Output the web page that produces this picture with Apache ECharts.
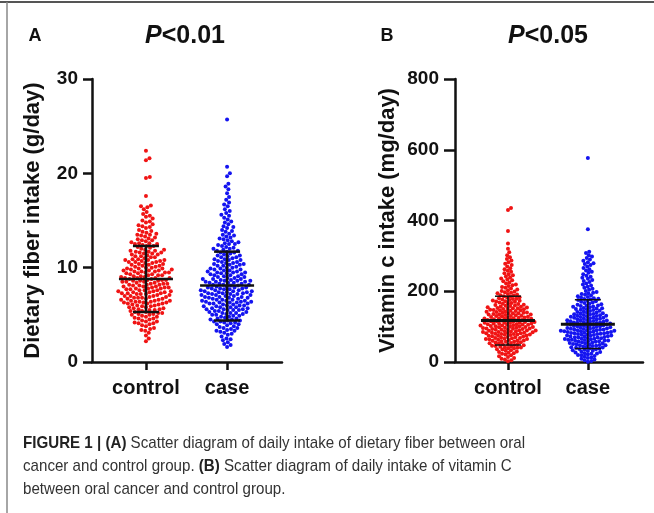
<!DOCTYPE html>
<html>
<head>
<meta charset="utf-8">
<script src="https://cdn.jsdelivr.net/npm/echarts@6/dist/echarts.min.js"></script>
<style>
  html, body { margin: 0; padding: 0; background: #fff; }
  #main { width: 654px; height: 513px; }
</style>
</head>
<body>
<div id="main"></div>
<script>
// groups on the x axis
const groups = ['control', 'case'];

// A: dietary fiber intake (g/day)
const fiberControl = [2.2,2.5,2.8,
  3.1,3.3,3.4,3.5,3.6,3.8,3.9,
  4.0,4.1,4.1,4.2,4.3,4.3,4.4,4.5,4.6,4.6,4.7,4.8,4.8,4.9,
  5.0,5.0,5.1,5.1,5.2,5.2,5.3,5.3,5.4,5.4,5.5,5.5,5.6,5.6,5.7,5.7,5.8,5.8,5.9,5.9,
  6.0,6.0,6.1,6.1,6.2,6.2,6.2,6.3,6.3,6.3,6.4,6.4,6.4,6.5,6.5,6.5,6.6,6.6,6.7,6.7,6.7,6.8,6.8,6.8,6.9,6.9,
  7.0,7.0,7.0,7.1,7.1,7.2,7.2,7.2,7.3,7.3,7.3,7.4,7.4,7.4,7.5,7.5,7.5,7.6,7.6,7.6,7.7,7.7,7.8,7.8,7.8,7.9,7.9,7.9,
  8.0,8.0,8.0,8.1,8.1,8.2,8.2,8.2,8.3,8.3,8.3,8.4,8.4,8.5,8.5,8.5,8.6,8.6,8.6,8.7,8.7,8.7,8.8,8.8,8.9,8.9,8.9,8.9,
  9.0,9.0,9.1,9.1,9.2,9.2,9.2,9.3,9.3,9.4,9.4,9.5,9.5,9.5,9.6,9.6,9.7,9.7,9.7,9.8,9.8,9.9,9.9,9.9,9.6,
  10.0,10.0,10.1,10.2,10.2,10.3,10.3,10.4,10.5,10.5,10.6,10.6,10.7,10.7,10.8,10.8,10.9,10.9,10.1,10.4,10.6,10.8,
  11.0,11.1,11.1,11.2,11.3,11.4,11.4,11.5,11.6,11.6,11.7,11.8,11.8,11.9,11.9,11.2,11.5,11.7,
  12.0,12.1,12.2,12.3,12.4,12.5,12.5,12.6,12.7,12.8,12.9,12.3,12.6,12.9,
  13.0,13.1,13.3,13.4,13.5,13.6,13.7,13.8,13.9,13.2,13.5,
  14.0,14.2,14.3,14.5,14.6,14.8,14.9,14.4,
  15.0,15.2,15.4,15.5,15.7,15.9,
  16.2,16.4,16.5,16.6,
  17.6,19.5,19.6,21.4,21.6,22.4];
const fiberCase = [1.6,1.8,1.9,
  2.1,2.3,2.4,2.5,2.7,2.9,
  3.0,3.1,3.2,3.3,3.3,3.4,3.5,3.6,3.6,3.7,3.8,3.9,
  4.0,4.0,4.1,4.2,4.2,4.3,4.4,4.4,4.5,4.5,4.6,4.6,4.7,4.8,4.8,4.9,4.9,4.3,
  5.0,5.0,5.1,5.1,5.2,5.2,5.3,5.3,5.4,5.4,5.5,5.5,5.5,5.6,5.6,5.7,5.7,5.8,5.8,5.8,5.9,5.9,5.2,5.6,
  6.0,6.0,6.0,6.1,6.1,6.2,6.2,6.2,6.3,6.3,6.4,6.4,6.4,6.5,6.5,6.5,6.6,6.6,6.6,6.7,6.7,6.8,6.8,6.8,6.9,6.9,6.9,6.3,
  7.0,7.0,7.1,7.1,7.1,7.2,7.2,7.3,7.3,7.3,7.4,7.4,7.5,7.5,7.5,7.6,7.6,7.6,7.7,7.7,7.8,7.8,7.8,7.9,7.9,7.9,7.4,7.2,
  8.0,8.0,8.1,8.1,8.2,8.2,8.3,8.3,8.4,8.4,8.5,8.5,8.5,8.6,8.6,8.7,8.7,8.8,8.8,8.9,8.9,8.2,8.6,8.4,8.8,
  9.0,9.1,9.1,9.2,9.3,9.3,9.4,9.5,9.5,9.6,9.6,9.7,9.8,9.8,9.9,9.9,9.2,9.4,9.7,9.0,9.5,
  10.0,10.1,10.2,10.3,10.3,10.4,10.5,10.6,10.6,10.7,10.8,10.9,10.9,10.2,10.5,10.8,10.0,10.4,
  11.0,11.1,11.2,11.3,11.4,11.5,11.6,11.7,11.8,11.9,11.3,11.6,11.1,11.8,
  12.0,12.1,12.3,12.4,12.5,12.6,12.8,12.9,12.2,12.7,12.5,12.0,
  13.0,13.2,13.3,13.5,13.6,13.8,13.9,13.1,13.4,
  14.0,14.2,14.4,14.6,14.8,14.3,14.9,
  15.1,15.3,15.5,15.6,15.8,16.0,
  16.2,16.5,16.7,16.9,
  17.2,17.5,17.9,18.3,18.6,18.9,19.7,20.0,20.7,25.7];

// B: vitamin C intake (mg/day)
const vitcControl = [2,5,7,9,11,14,16,19,
  21,23,25,26,28,30,32,33,35,36,38,39,
  40,41,42,43,44,45,46,47,48,49,50,51,52,53,54,55,56,57,58,59,
  60,61,61,62,63,64,65,66,67,68,68,69,70,71,72,73,74,74,75,76,77,78,78,79,79,65,
  80,81,81,82,83,83,84,85,85,86,87,87,88,89,89,90,91,91,92,93,93,94,95,95,96,97,97,98,99,99,
  100,101,101,102,103,103,104,105,105,106,107,107,108,109,109,110,111,111,112,113,113,114,115,115,116,117,117,118,119,119,
  120,121,122,122,123,124,125,126,126,127,128,129,130,130,131,132,133,134,134,135,136,137,138,138,139,139,124,
  140,141,142,143,144,145,146,147,148,149,150,151,152,153,154,155,156,157,158,159,146,152,
  160,161,162,164,165,166,167,168,170,171,172,173,174,175,177,178,179,
  180,182,183,185,186,188,189,191,192,194,196,197,199,
  201,203,205,208,210,212,215,217,219,
  222,225,228,231,233,236,239,
  242,245,248,251,255,258,
  262,265,270,274,278,
  282,287,291,296,
  302,310,320,335,
  370,430,435];
const vitcCase = [1,3,5,7,9,11,13,15,17,19,
  20,21,23,24,25,27,28,29,31,32,33,35,36,37,38,39,
  40,41,42,43,44,45,46,47,48,49,50,51,52,53,54,55,56,57,58,58,59,47,
  60,61,61,62,63,63,64,65,66,66,67,68,69,69,70,71,72,72,73,74,75,75,76,77,78,79,79,
  80,81,81,82,83,83,84,85,85,86,87,87,88,88,89,90,90,91,92,92,93,94,94,95,96,96,97,98,99,
  100,101,101,102,103,104,104,105,106,106,107,108,109,109,110,111,112,112,113,114,114,115,116,117,117,118,119,
  120,121,122,123,124,125,126,127,128,129,130,131,132,133,134,135,136,137,138,139,125,131,
  140,141,143,144,145,147,148,149,151,152,153,155,156,157,158,159,150,
  160,162,163,165,167,168,170,172,173,175,177,178,179,
  180,182,184,186,188,190,192,194,196,198,
  201,204,207,210,213,216,219,
  222,226,229,232,235,238,
  241,244,248,252,255,259,
  262,266,270,274,277,279,
  282,286,290,294,298,
  302,308,312,
  375,577];

// mean and mean±SD bars
const fiberMean = [8.8, 8.1];
const fiberLow = [5.3, 4.4];
const fiberHigh = [12.3, 11.7];
const vitcMean = [117, 107];
const vitcLow = [48, 38];
const vitcHigh = [186, 176];

// y ticks
const fiberTicks = [0, 10, 20, 30];
const vitcTicks = [0, 200, 400, 600, 800];

const FONT = '"Liberation Sans", Arial, sans-serif';
const INK = '#111';

const chart = echarts.init(document.getElementById('main'));

function xAxisFor(gridIndex, min, max) {
  return {
    type: 'value', gridIndex: gridIndex, min: min, max: max,
    splitLine: { show: false },
    axisLine: { onZero: false, lineStyle: { color: INK, width: 2.5 } },
    axisTick: { customValues: [1, 2], length: 8, lineStyle: { color: INK, width: 2.5 } },
    axisLabel: {
      customValues: [1, 2], margin: 16,
      formatter: function (v) { return groups[Math.round(v) - 1]; },
      color: INK, fontFamily: FONT, fontWeight: 'bold', fontSize: 20
    }
  };
}

function yAxisFor(gridIndex, ticks, name, gap, tickLen, margin) {
  return {
    type: 'value', gridIndex: gridIndex,
    min: ticks[0], max: ticks[ticks.length - 1], interval: ticks[1] - ticks[0],
    splitLine: { show: false },
    axisLine: { show: true, onZero: false, lineStyle: { color: INK, width: 2.5 } },
    axisTick: { show: true, length: tickLen, lineStyle: { color: INK, width: 2.5 } },
    axisLabel: { margin: margin, color: INK, fontFamily: FONT, fontWeight: 'bold', fontSize: 19 },
    name: name, nameLocation: 'middle', nameGap: gap,
    nameTextStyle: { color: INK, fontFamily: FONT, fontWeight: 'bold', fontSize: 22 }
  };
}

function barSeries(gridIndex, mean, low, high, meanWidth, sdWidth) {
  const data = groups.map(function (g, i) { return [i + 1, mean[i], low[i], high[i]]; });
  return {
    type: 'custom', xAxisIndex: gridIndex, yAxisIndex: gridIndex, z: 5,
    encode: { x: 0, y: 1 },
    data: data,
    renderItem: function (params, api) {
      const m = api.coord([api.value(0), api.value(1)]);
      const lo = api.coord([api.value(0), api.value(2)]);
      const hi = api.coord([api.value(0), api.value(3)]);
      const line = function (x1, y1, x2, y2, w) {
        return { type: 'line', shape: { x1: x1, y1: y1, x2: x2, y2: y2 }, style: { stroke: INK, lineWidth: w } };
      };
      return {
        type: 'group',
        children: [
          line(m[0], hi[1], m[0], lo[1], sdWidth),
          line(m[0] - 13, hi[1], m[0] + 13, hi[1], sdWidth),
          line(m[0] - 13, lo[1], m[0] + 13, lo[1], sdWidth),
          line(m[0] - 27, m[1], m[0] + 27, m[1], meanWidth)
        ]
      };
    }
  };
}

const captionRich = { b: { fontWeight: 'bold', fontSize: 17, fontFamily: FONT, fill: '#222' } };

const option = {
  animation: false,
  grid: [
    { left: 92, top: 79, width: 190, height: 283 },
    { left: 455, top: 79, width: 188, height: 283 }
  ],
  xAxis: [xAxisFor(0, 0.335, 2.677), xAxisFor(1, 0.337, 2.69)],
  yAxis: [
    yAxisFor(0, fiberTicks, 'Dietary fiber intake (g/day)', 48, 9, 14),
    yAxisFor(1, vitcTicks, 'Vitamin c intake (mg/day)', 56, 11, 16)
  ],
  series: [],
  graphic: [
    { type: 'line', shape: { x1: 0, y1: 2, x2: 654, y2: 2 }, style: { stroke: '#555', lineWidth: 2 } },
    { type: 'line', shape: { x1: 7, y1: 2, x2: 7, y2: 513 }, style: { stroke: '#888', lineWidth: 1.5 } },
    { type: 'text', x: 35, y: 36, style: { text: 'A', fill: INK, font: 'bold 18px ' + FONT, align: 'center', verticalAlign: 'middle' } },
    { type: 'text', x: 387, y: 36, style: { text: 'B', fill: INK, font: 'bold 18px ' + FONT, align: 'center', verticalAlign: 'middle' } },
    { type: 'text', x: 185, y: 36, style: {
      text: '{i|P}{n|<0.01}', align: 'center', verticalAlign: 'middle',
      rich: {
        i: { fontStyle: 'italic', fontWeight: 'bold', fontSize: 25, fontFamily: FONT, fill: INK },
        n: { fontWeight: 'bold', fontSize: 25, fontFamily: FONT, fill: INK }
      } } },
    { type: 'text', x: 548, y: 36, style: {
      text: '{i|P}{n|<0.05}', align: 'center', verticalAlign: 'middle',
      rich: {
        i: { fontStyle: 'italic', fontWeight: 'bold', fontSize: 25, fontFamily: FONT, fill: INK },
        n: { fontWeight: 'bold', fontSize: 25, fontFamily: FONT, fill: INK }
      } } },
    // caption, squeezed a little to mimic the condensed journal face
    { type: 'text', x: 23, y: 443, scaleX: 0.89, style: {
      text: '{b|FIGURE 1 | (A)} Scatter diagram of daily intake of dietary fiber between oral',
      fill: '#333', font: '17px ' + FONT, verticalAlign: 'middle', rich: captionRich } },
    { type: 'text', x: 23, y: 466, scaleX: 0.89, style: {
      text: 'cancer and control group. {b|(B)} Scatter diagram of daily intake of vitamin C',
      fill: '#333', font: '17px ' + FONT, verticalAlign: 'middle', rich: captionRich } },
    { type: 'text', x: 23, y: 489, scaleX: 0.89, style: {
      text: 'between oral cancer and control group.',
      fill: '#333', font: '17px ' + FONT, verticalAlign: 'middle' } }
  ]
};
chart.setOption(option);

// lay the dots out as a swarm around each group's centre (no overlap closer than d px)
function swarm(values, gridIndex, cat, d) {
  const sorted = values.slice().sort(function (a, b) { return a - b; });
  const placed = [];
  return sorted.map(function (v) {
    const p = chart.convertToPixel({ gridIndex: gridIndex }, [cat, v]);
    const near = placed.filter(function (q) { return Math.abs(q.y - p[1]) < d; });
    const cands = [0];
    near.forEach(function (q) {
      const dx = Math.sqrt(d * d - (q.y - p[1]) * (q.y - p[1]));
      cands.push(q.x + dx, q.x - dx);
    });
    cands.sort(function (a, b) { return Math.abs(a) - Math.abs(b); });
    const x = cands.find(function (c) {
      return near.every(function (q) { return (q.x - c) * (q.x - c) + (q.y - p[1]) * (q.y - p[1]) >= d * d - 1e-6; });
    });
    placed.push({ x: x, y: p[1] });
    return [chart.convertFromPixel({ gridIndex: gridIndex }, [p[0] + x, p[1]])[0], v];
  });
}

function dots(gridIndex, values, cat, color, d) {
  return {
    type: 'scatter', xAxisIndex: gridIndex, yAxisIndex: gridIndex,
    symbolSize: 4, itemStyle: { color: color, opacity: 1 },
    data: swarm(values, gridIndex, cat, d)
  };
}

chart.setOption({
  series: [
    dots(0, fiberControl, 1, '#f01414', 4.0),
    dots(0, fiberCase, 2, '#1414f0', 4.0),
    dots(1, vitcControl, 1, '#f01414', 3.5),
    dots(1, vitcCase, 2, '#1414f0', 3.5),
    barSeries(0, fiberMean, fiberLow, fiberHigh, 2.5, 2.5),
    barSeries(1, vitcMean, vitcLow, vitcHigh, 3, 1.5)
  ]
});
</script>
</body>
</html>
